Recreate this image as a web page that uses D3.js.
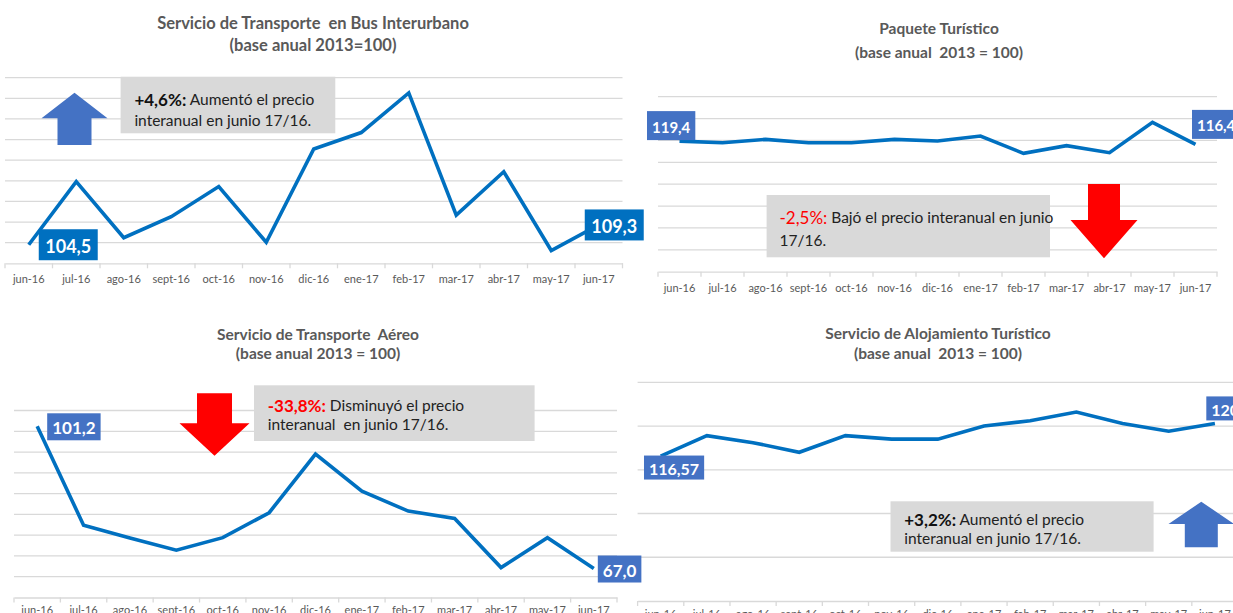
<!DOCTYPE html>
<html>
<head>
<meta charset="utf-8">
<script src="https://cdn.jsdelivr.net/npm/d3@7"></script>
<style>
  body { margin: 0; background: #fff; }
  svg { display: block; font-family: Lato, "Open Sans", sans-serif; }
</style>
</head>
<body>
<svg id="chart" width="1233" height="613"></svg>
<script>
const months = ["jun-16","jul-16","ago-16","sept-16","oct-16","nov-16","dic-16","ene-17","feb-17","mar-17","abr-17","may-17","jun-17"];

const busValues = [104.5, 119.8, 106.2, 111.3, 118.6, 105.1, 127.7, 131.7, 141.3, 111.7, 122.2, 103.1, 109.3];
const paqueteValues = [119.4, 117.9, 121.0, 117.9, 117.9, 121.0, 119.5, 124.0, 108.2, 115.2, 108.8, 136.6, 116.4];
const aereoValues = [101.2, 77.4, 74.3, 71.4, 74.4, 80.4, 94.5, 85.6, 80.8, 79.0, 67.2, 74.4, 67.0];
const alojamientoValues = [116.57, 118.9, 118.1, 117.0, 118.9, 118.5, 118.5, 120.0, 120.6, 121.6, 120.3, 119.4, 120.30];

// gridline values (no y labels are shown in the original)
const busTicks = [100, 105, 110, 115, 120, 125, 130, 135, 140, 145];
const paqueteTicks = [0, 20, 40, 60, 80, 100, 120, 140, 160];
const aereoTicks = [60, 65, 70, 75, 80, 85, 90, 95, 100, 105];
const alojamientoTicks = [100, 105, 110, 115, 120, 125];

const svg = d3.select("#chart");
const later = [];

function comma(dec) {
  const f = d3.format(`.${dec}f`);
  return v => f(v).replace(".", ",");
}

function arrow(g, o) {
  const { cx, tip, shoulder, end, hw, sw, fill } = o;
  const p = d3.path();
  p.moveTo(cx, tip);
  p.lineTo(cx + hw, shoulder);
  p.lineTo(cx + sw, shoulder);
  p.lineTo(cx + sw, end);
  p.lineTo(cx - sw, end);
  p.lineTo(cx - sw, shoulder);
  p.lineTo(cx - hw, shoulder);
  p.closePath();
  g.append("path").attr("d", p.toString()).attr("fill", fill);
}

function drawPanel(c) {
  const g = svg.append("g");
  const x = d3.scaleBand().domain(months).range(c.xr);
  const y = d3.scaleLinear().domain(d3.extent(c.ticks)).range(c.yr);
  const cx = m => x(m) + x.bandwidth() / 2;

  // titles
  g.append("text").attr("x", c.tx).attr("y", c.ty)
    .attr("text-anchor", "middle").style("white-space", "pre")
    .style("font-size", c.tfs + "px").style("font-weight", "700").style("fill", "#595959")
    .text(c.title);
  g.append("text").attr("x", c.tx).attr("y", c.ty + c.tgap)
    .attr("text-anchor", "middle").style("white-space", "pre")
    .style("font-size", c.tfs + "px").style("font-weight", "700").style("fill", "#595959")
    .text(c.sub);

  // gridlines
  g.append("g").selectAll("line").data(c.ticks.slice(1)).join("line")
    .attr("x1", c.xr[0]).attr("x2", c.xr[1])
    .attr("y1", d => y(d)).attr("y2", d => y(d))
    .attr("stroke", "#d9d9d9").attr("stroke-width", 1.3);

  // category axis
  g.append("g")
    .attr("transform", `translate(0,${c.yr[0]})`)
    .call(d3.axisBottom(x).tickSizeInner(0).tickSizeOuter(0).tickPadding(c.lpad))
    .call(ax => {
      ax.select(".domain").attr("stroke", "#d9d9d9").attr("stroke-width", 1.3);
      ax.selectAll(".tick text").style("fill", "#595959").style("font-size", "11px")
        .style("font-family", "Lato, sans-serif");
    });
  g.append("g").selectAll("line").data(months.map(m => x(m)).concat([c.xr[1]])).join("line")
    .attr("x1", d => d).attr("x2", d => d)
    .attr("y1", c.yr[0]).attr("y2", c.yr[0] + 5)
    .attr("stroke", "#d9d9d9").attr("stroke-width", 1.3);

  // annotation box
  const a = c.note;
  g.append("rect").attr("x", a.x0).attr("y", a.y0)
    .attr("width", a.x1 - a.x0).attr("height", a.y1 - a.y0).attr("fill", "#d9d9d9");
  const t1 = g.append("text").attr("x", a.tx).attr("y", a.l1).attr("dominant-baseline", "central")
    .style("font-size", "15.5px").style("fill", "#222").style("white-space", "pre");
  t1.append("tspan").style("font-size", "17px").style("font-weight", a.bold ? "700" : "400")
    .style("fill", a.color).text(a.head);
  t1.append("tspan").text(a.line1);
  g.append("text").attr("x", a.tx).attr("y", a.l2).attr("dominant-baseline", "central")
    .style("font-size", "15.5px").style("fill", "#222").style("white-space", "pre")
    .text(a.line2);

  arrow(g, c.arrow);

  // series line
  g.append("path").datum(c.values)
    .attr("d", d3.line().x((d, i) => cx(months[i])).y(d => y(d)))
    .attr("fill", "none").attr("stroke", "#0070c0").attr("stroke-width", 3.6)
    .attr("stroke-linejoin", "miter");

  // end labels drawn after every panel
  const fmt = comma(c.dec);
  c.labels.forEach(l => {
    later.push(() => {
      const px = cx(months[l.i]), py = y(c.values[l.i]);
      const lg = svg.append("g");
      const txt = lg.append("text")
        .attr("dominant-baseline", "central")
        .style("font-size", c.lfs + "px").style("font-weight", "700").style("fill", "#fff")
        .text(fmt(c.values[l.i]));
      const w = txt.node().getComputedTextLength() + 2 * c.lpadBox;
      const bx = px + l.dx, by = py + l.dy;
      lg.insert("rect", "text").attr("x", bx).attr("y", by - c.lh / 2)
        .attr("width", w).attr("height", c.lh).attr("fill", c.boxColor);
      txt.attr("x", bx + c.lpadBox).attr("y", by + 1);
    });
  });
}

drawPanel({
  title: "Servicio de Transporte  en Bus Interurbano", sub: "(base anual 2013=100)",
  tx: 313, ty: 28.5, tgap: 22, tfs: 16.5,
  xr: [5, 622.5], yr: [263.3, 77.7], ticks: busTicks, values: busValues, lpad: 12,
  dec: 1, lfs: 18, lh: 31, lpadBox: 6.5, boxColor: "#0070c0",
  labels: [{ i: 0, dx: 10, dy: 0 }, { i: 12, dx: -14, dy: 0 }],
  note: { x0: 120.6, x1: 335.3, y0: 76.7, y1: 133.3, tx: 134.4, l1: 99, l2: 120,
    head: "+4,6%:", bold: true, color: "#111", line1: " Aumentó el precio", line2: "interanual en junio 17/16." },
  arrow: { cx: 74.5, tip: 92.7, shoulder: 118.3, end: 145, hw: 33, sw: 17, fill: "#4472c4" }
});

drawPanel({
  title: "Paquete Turístico", sub: "(base anual  2013 = 100)",
  tx: 939, ty: 34, tgap: 23.5, tfs: 15.5,
  xr: [658, 1217], yr: [271.7, 96.7], ticks: paqueteTicks, values: paqueteValues, lpad: 13,
  dec: 1, lfs: 15, lh: 29, lpadBox: 5, boxColor: "#4472c4",
  labels: [{ i: 0, dx: -32.5, dy: -15.5 }, { i: 12, dx: -3.5, dy: -20 }],
  note: { x0: 766.6, x1: 1050, y0: 195, y1: 257.3, tx: 779.5, l1: 217.3, l2: 240,
    head: "-2,5%:", bold: false, color: "#ff0000", line1: " Bajó el precio interanual en junio", line2: "17/16." },
  arrow: { cx: 1104, tip: 258.3, shoulder: 220, end: 184, hw: 33.5, sw: 16, fill: "#ff0000" }
});

drawPanel({
  title: "Servicio de Transporte  Aéreo", sub: "(base anual 2013 = 100)",
  tx: 318, ty: 339.5, tgap: 19.5, tfs: 15.5,
  xr: [14, 617], yr: [597.5, 410.5], ticks: aereoTicks, values: aereoValues, lpad: 9,
  dec: 1, lfs: 17, lh: 27, lpadBox: 5, boxColor: "#4472c4",
  labels: [{ i: 0, dx: 10, dy: 0.5 }, { i: 12, dx: 4, dy: 0.6 }],
  note: { x0: 254, x1: 534.6, y0: 385.3, y1: 441, tx: 267.7, l1: 405, l2: 424,
    head: "-33,8%:", bold: true, color: "#ff0000", line1: " Disminuyó el precio", line2: "interanual  en junio 17/16." },
  arrow: { cx: 214.5, tip: 455.7, shoulder: 423.3, end: 393.3, hw: 35, sw: 17.5, fill: "#ff0000" }
});

drawPanel({
  title: "Servicio de Alojamiento Turístico", sub: "(base anual  2013 = 100)",
  tx: 938, ty: 339, tgap: 19.5, tfs: 15.5,
  xr: [637.6, 1238], yr: [601, 382.3], ticks: alojamientoTicks, values: alojamientoValues, lpad: 9,
  dec: 2, lfs: 16, lh: 24, lpadBox: 5, boxColor: "#4472c4",
  labels: [{ i: 0, dx: -16.7, dy: 11.5 }, { i: 12, dx: -8.6, dy: -15 }],
  note: { x0: 890.5, x1: 1153.6, y0: 501.3, y1: 551.7, tx: 904.2, l1: 519.3, l2: 538.3,
    head: "+3,2%:", bold: true, color: "#111", line1: " Aumentó el precio", line2: "interanual en junio 17/16." },
  arrow: { cx: 1201.3, tip: 501.7, shoulder: 524, end: 547.3, hw: 32.8, sw: 16.5, fill: "#4472c4" }
});

later.forEach(f => f());
</script>
</body>
</html>
